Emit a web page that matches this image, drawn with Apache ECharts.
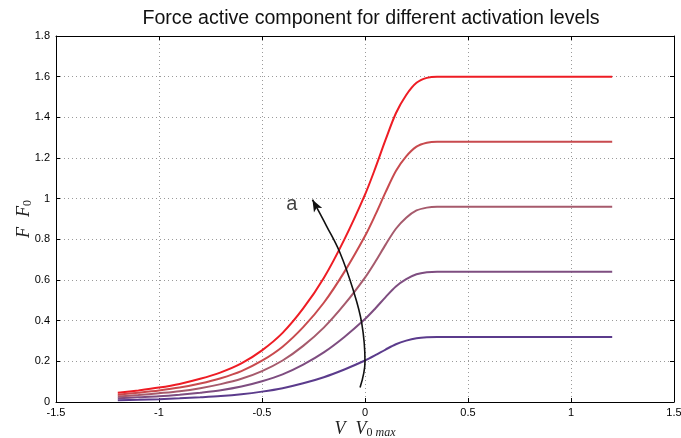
<!DOCTYPE html>
<html>
<head>
<meta charset="utf-8">
<script src="https://cdn.jsdelivr.net/npm/echarts@6/dist/echarts.min.js"></script>
<style>
  html, body { margin: 0; padding: 0; background: #fff; }
  #chart { width: 681px; height: 438px; }
</style>
</head>
<body>
<div id="chart"></div>
<script>
// Normalised velocity V / V0max at which each curve is sampled
const velocity = [-1.2, -1.1, -1.0, -0.9, -0.8, -0.7, -0.6, -0.5, -0.4, -0.3, -0.2, -0.1,
  0, 0.05, 0.1, 0.15, 0.2, 0.25, 0.3, 0.35, 0.4, 0.6, 0.8, 1.0, 1.2];

// Active force F / F0 for each activation level (lowest to highest)
const forceA1 = [0.009, 0.011, 0.014, 0.018, 0.023, 0.029, 0.038, 0.051, 0.068, 0.092, 0.122, 0.160,
  0.204, 0.230, 0.258, 0.284, 0.302, 0.314, 0.319, 0.320, 0.320, 0.320, 0.320, 0.320, 0.320];
const forceA2 = [0.018, 0.023, 0.028, 0.036, 0.046, 0.058, 0.076, 0.102, 0.136, 0.184, 0.244, 0.320,
  0.408, 0.460, 0.516, 0.568, 0.604, 0.628, 0.638, 0.640, 0.640, 0.640, 0.640, 0.640, 0.640];
const forceA3 = [0.027, 0.034, 0.043, 0.053, 0.068, 0.088, 0.114, 0.152, 0.204, 0.276, 0.366, 0.480,
  0.612, 0.690, 0.774, 0.852, 0.906, 0.942, 0.956, 0.960, 0.960, 0.960, 0.960, 0.960, 0.960];
const forceA4 = [0.036, 0.046, 0.057, 0.071, 0.091, 0.117, 0.152, 0.203, 0.272, 0.368, 0.488, 0.640,
  0.816, 0.920, 1.032, 1.136, 1.208, 1.256, 1.275, 1.280, 1.280, 1.280, 1.280, 1.280, 1.280];
const forceA5 = [0.045, 0.057, 0.071, 0.089, 0.114, 0.146, 0.190, 0.254, 0.340, 0.460, 0.610, 0.800,
  1.020, 1.150, 1.290, 1.420, 1.510, 1.570, 1.594, 1.600, 1.600, 1.600, 1.600, 1.600, 1.600];

const levels = [forceA1, forceA2, forceA3, forceA4, forceA5];
const levelColors = ['#5b3b8c', '#7e4d80', '#a65a6c', '#c84a4e', '#ee1c24'];

// Curved arrow showing increasing activation "a"
const arrowX = [-0.024, 0.0, -0.016, -0.058, -0.122, -0.186, -0.255];
const arrowY = [0.071, 0.199, 0.389, 0.553, 0.735, 0.864, 0.995];
const arrowLabel = { text: 'a', x: -0.355, y: 0.97 };

const xTicks = { min: -1.5, max: 1.5, interval: 0.5 };
const yTicks = { min: 0, max: 1.8, interval: 0.2 };

const tickFont = { color: '#000', fontSize: 11, fontFamily: 'Liberation Sans, Arial, sans-serif' };
const mathFont = 'Liberation Serif, DejaVu Serif, serif';

function pairs(xs, ys) {
  return xs.map((x, i) => [x, ys[i]]);
}

const chart = echarts.init(document.getElementById('chart'), null, { renderer: 'canvas' });

const curveSeries = levels.map((ys, i) => ({
  type: 'line',
  data: pairs(velocity, ys),
  smooth: 0.3,
  showSymbol: false,
  lineStyle: { color: levelColors[i], width: 2 },
  z: 3
}));

const arrowData = pairs(arrowX, arrowY).map((p, i, arr) => {
  if (i === arr.length - 1) {
    return { value: p, symbol: 'arrow', symbolSize: [7, 12], symbolRotate: 28 };
  }
  return { value: p, symbol: 'none' };
});

const option = {
  animation: false,
  backgroundColor: '#fff',
  title: {
    text: 'Force active component for different activation levels',
    left: 366,
    textAlign: 'center',
    top: 4,
    textStyle: { color: '#111', fontSize: 19.6, fontWeight: 'normal', fontFamily: 'Liberation Sans, Arial, sans-serif' }
  },
  grid: { left: 56, right: 7, top: 36, bottom: 36, containLabel: false, outerBoundsMode: 'none' },
  xAxis: [{
    type: 'value',
    min: xTicks.min, max: xTicks.max, interval: xTicks.interval,
    position: 'bottom',
    axisLine: { show: true, onZero: false, lineStyle: { color: '#000', width: 1 } },
    axisTick: { show: true, inside: true, length: 4, lineStyle: { color: '#000' } },
    axisLabel: Object.assign({ margin: 5 }, tickFont),
    splitLine: { show: true, lineStyle: { color: '#9a9a9a', type: [1, 3], width: 1 } },
    name: '{i|V}   {i|V}{s|0}{si| max}',
    nameLocation: 'middle',
    nameGap: 17,
    nameMoveOverlap: false,
    nameTextStyle: {
      rich: {
        i: { fontFamily: mathFont, fontStyle: 'italic', fontSize: 18, color: '#222' },
        s: { fontFamily: mathFont, fontSize: 12, color: '#222', padding: [8, 0, 0, 0] },
        si: { fontFamily: mathFont, fontStyle: 'italic', fontSize: 12, color: '#222', padding: [8, 0, 0, 0] }
      }
    }
  }, {
    type: 'value',
    min: xTicks.min, max: xTicks.max, interval: xTicks.interval,
    position: 'top',
    axisLine: { show: true, onZero: false, lineStyle: { color: '#000', width: 1 } },
    axisTick: { show: true, inside: true, length: 4, lineStyle: { color: '#000' } },
    axisLabel: { show: false },
    splitLine: { show: false }
  }],
  yAxis: [{
    type: 'value',
    min: yTicks.min, max: yTicks.max, interval: yTicks.interval,
    position: 'left',
    axisLine: { show: true, onZero: false, lineStyle: { color: '#000', width: 1 } },
    axisTick: { show: true, inside: true, length: 4, lineStyle: { color: '#000' } },
    axisLabel: Object.assign({ margin: 6 }, tickFont),
    splitLine: { show: true, lineStyle: { color: '#9a9a9a', type: [1, 3], width: 1 } },
    name: '{i|F}   {i|F}{s|0}',
    nameLocation: 'middle',
    nameRotate: 90,
    nameGap: 22,
    nameMoveOverlap: false,
    nameTextStyle: {
      rich: {
        i: { fontFamily: mathFont, fontStyle: 'italic', fontSize: 18, color: '#222' },
        s: { fontFamily: mathFont, fontSize: 12, color: '#222', padding: [8, 0, 0, 0] }
      }
    }
  }, {
    type: 'value',
    min: yTicks.min, max: yTicks.max, interval: yTicks.interval,
    position: 'right',
    axisLine: { show: true, onZero: false, lineStyle: { color: '#000', width: 1 } },
    axisTick: { show: true, inside: true, length: 4, lineStyle: { color: '#000' } },
    axisLabel: { show: false },
    splitLine: { show: false }
  }],
  series: curveSeries.concat([
    {
      type: 'line',
      data: arrowData,
      smooth: 0.4,
      lineStyle: { color: '#111', width: 1.6 },
      itemStyle: { color: '#111' },
      z: 5
    },
    {
      type: 'scatter',
      data: [[arrowLabel.x, arrowLabel.y]],
      symbolSize: 0,
      label: {
        show: true,
        position: 'inside',
        formatter: arrowLabel.text,
        color: '#111',
        fontSize: 20,
        fontFamily: 'Liberation Sans, Arial, sans-serif'
      },
      z: 6
    }
  ])
};

chart.setOption(option);
</script>
</body>
</html>
